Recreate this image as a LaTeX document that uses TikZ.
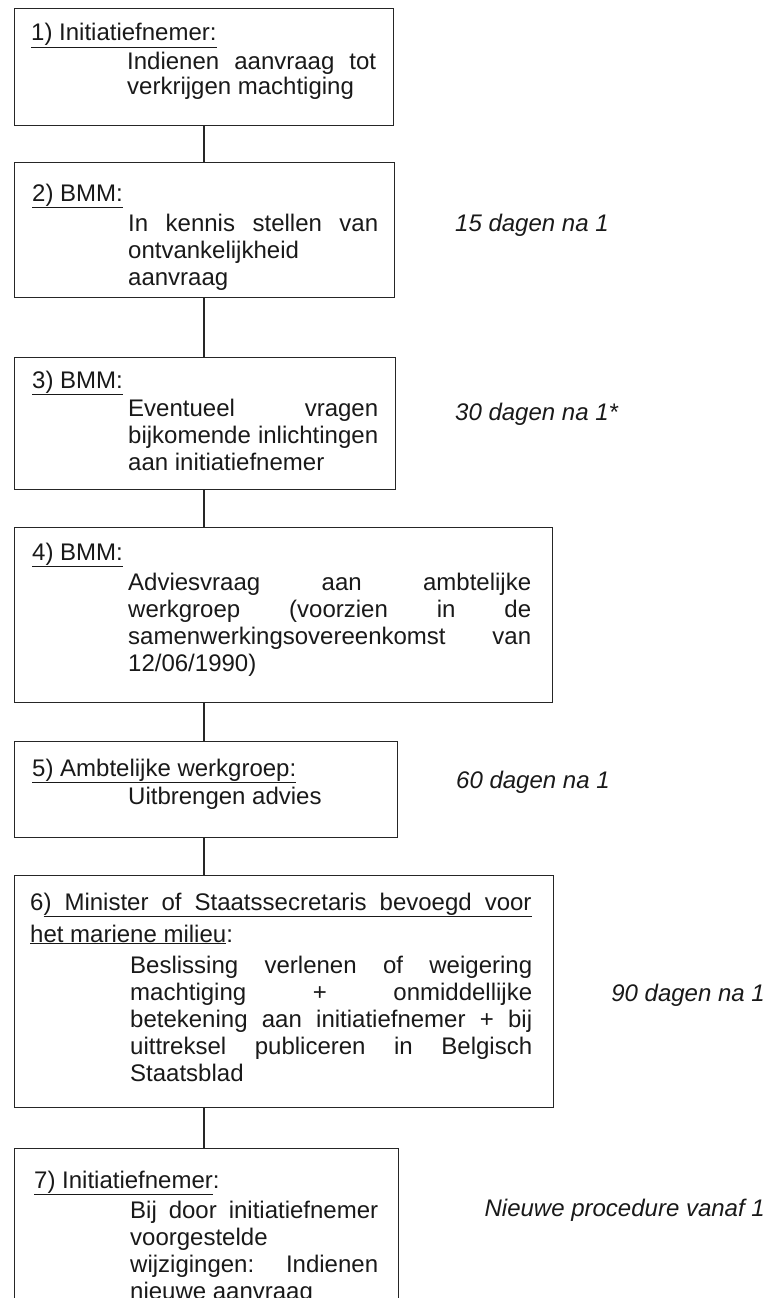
\documentclass[tikz,border=0pt]{standalone}
\usepackage{fontspec}
\setmainfont{Liberation Sans}
\newcommand{\jline}[2]{\makebox[#1][s]{#2}}
\begin{document}
\begin{tikzpicture}[x=1pt,y=-1pt,
  box/.style={draw=black!85, line width=1.3pt, inner sep=0pt, anchor=north west},
  conn/.style={draw=black!85, line width=1.1pt},
  txt/.style={anchor=base west, inner sep=0pt, text=black!90, font=\fontsize{24}{27}\selectfont},
  side/.style={anchor=base west, inner sep=0pt, text=black!90, font=\fontsize{24}{27}\selectfont\itshape},
  sider/.style={side, anchor=base east}]
\useasboundingbox (0,0) rectangle (766,1298);
\clip (0,0) rectangle (766,1298);
% boxes
\node[box, minimum width=379pt, minimum height=117pt] (b1) at (14,8) {};
\node[box, minimum width=380pt, minimum height=135pt] (b2) at (14,162) {};
\node[box, minimum width=381pt, minimum height=132pt] (b3) at (14,357) {};
\node[box, minimum width=538pt, minimum height=175pt] (b4) at (14,527) {};
\node[box, minimum width=383pt, minimum height=96pt] (b5) at (14,741) {};
\node[box, minimum width=539pt, minimum height=232pt] (b6) at (14,875) {};
\node[box, minimum width=384pt, minimum height=200pt] (b7) at (14,1148) {};
% connectors
\coordinate (cx) at (204,0);
\draw[conn] (cx |- b1.south) -- (cx |- b2.north);
\draw[conn] (cx |- b2.south) -- (cx |- b3.north);
\draw[conn] (cx |- b3.south) -- (cx |- b4.north);
\draw[conn] (cx |- b4.south) -- (cx |- b5.north);
\draw[conn] (cx |- b5.south) -- (cx |- b6.north);
\draw[conn] (cx |- b6.south) -- (cx |- b7.north);
% box 1
\node[txt] (t1) at (31,41) {\underline{1) Initiatiefnemer:}};
\node[txt] (t1a) at (127,70) {\jline{249pt}{Indienen aanvraag tot}};
\node[txt] (t1b) at (127,95) {verkrijgen machtiging};
% box 2
\node[txt] (t2) at (32,201) {\underline{2) BMM:}};
\node[txt] (t2a) at (128,231) {\jline{250pt}{In kennis stellen van}};
\node[txt] (t2b) at (128,258) {ontvankelijkheid};
\node[txt] (t2c) at (128,285) {aanvraag};
% box 3
\node[txt] (t3) at (32,388) {\underline{3) BMM:}};
\node[txt] (t3a) at (128,416) {\jline{250pt}{Eventueel vragen}};
\node[txt] (t3b) at (128,443) {\jline{250pt}{bijkomende inlichtingen}};
\node[txt] (t3c) at (128,470) {aan initiatiefnemer};
% box 4
\node[txt] (t4) at (32,560) {\underline{4) BMM:}};
\node[txt] (t4a) at (128,590) {\jline{403pt}{Adviesvraag aan ambtelijke}};
\node[txt] (t4b) at (128,617) {\jline{403pt}{werkgroep (voorzien in de}};
\node[txt] (t4c) at (128,644) {\jline{403pt}{samenwerkingsovereenkomst van}};
\node[txt] (t4d) at (128,671) {12/06/1990)};
% box 5
\node[txt] (t5) at (32,776) {\underline{5) Ambtelijke werkgroep:}};
\node[txt] (t5a) at (128,804) {Uitbrengen advies};
% box 6
\node[txt] (t6) at (30,910) {6\underline{\jline{488pt}{) Minister of Staatssecretaris bevoegd voor}}};
\node[txt] (t6b) at (30,942) {\underline{het mariene milieu}:};
\node[txt] (t6c) at (130,973) {\jline{402pt}{Beslissing verlenen of weigering}};
\node[txt] (t6d) at (130,1000) {\jline{402pt}{machtiging + onmiddellijke}};
\node[txt] (t6e) at (130,1027) {\jline{402pt}{betekening aan initiatiefnemer + bij}};
\node[txt] (t6f) at (130,1054) {\jline{402pt}{uittreksel publiceren in Belgisch}};
\node[txt] (t6g) at (130,1081) {Staatsblad};
% box 7
\node[txt] (t7) at (34,1188) {\underline{7) Initiatiefnemer}:};
\node[txt] (t7a) at (130,1218) {\jline{248pt}{Bij door initiatiefnemer}};
\node[txt] (t7b) at (130,1245) {voorgestelde};
\node[txt] (t7c) at (130,1272) {\jline{248pt}{wijzigingen: Indienen}};
\node[txt] (t7d) at (130,1299) {nieuwe aanvraag};
% side labels
\node[side] (s1) at (455,231) {15 dagen na 1};
\node[side] (s2) at (455,420) {30 dagen na 1*};
\node[side] (s3) at (456,788) {60 dagen na 1};
\node[sider] (s4) at (765,1001) {90 dagen na 1};
\node[sider] (s5) at (765,1216) {Nieuwe procedure vanaf 1};
\end{tikzpicture}
\end{document}
